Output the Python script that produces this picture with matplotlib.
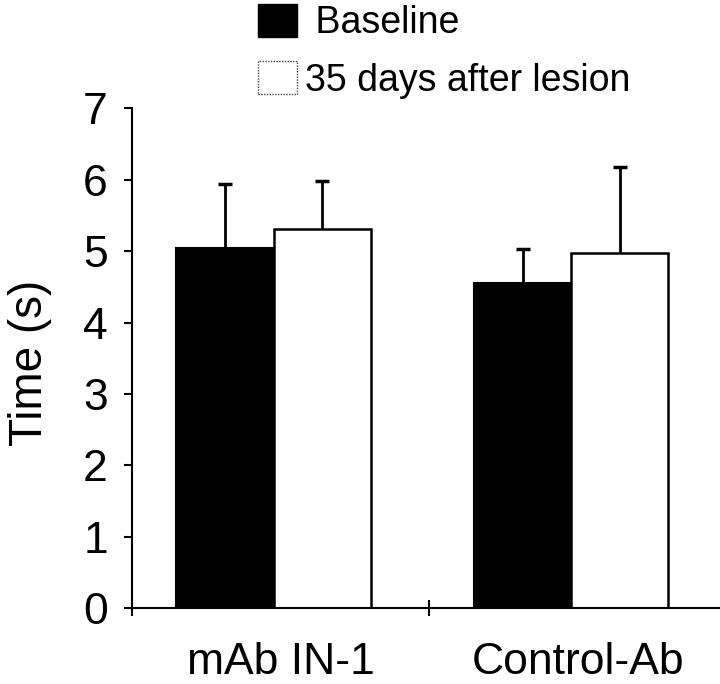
import matplotlib
matplotlib.use('Agg')
import matplotlib.pyplot as plt
from matplotlib.patches import Patch
import numpy as np

plt.rcParams['font.family'] = ['Liberation Sans', 'DejaVu Sans']

categories = ['mAb IN-1', 'Control-Ab']
baseline = [5.05, 4.55]
baseline_sd = [0.89, 0.48]
lesion = [5.31, 4.98]
lesion_sd = [0.67, 1.20]
series_labels = [' Baseline', '35 days after lesion']
yticks = [0, 1, 2, 3, 4, 5, 6, 7]

fig = plt.figure(figsize=(7.2, 6.84), dpi=100)
ax = fig.add_axes([131.5 / 720, 75.7 / 684, 588.5 / 720, 500 / 684])

x = np.arange(len(categories))
w = 0.326
ekw = dict(elinewidth=2.0, capthick=2.5, ecolor='black')
b1 = ax.bar(x - 0.186, baseline, w, color='black', edgecolor='black', linewidth=1.5,
            yerr=[np.zeros(len(baseline)), baseline_sd], capsize=5, error_kw=ekw)
b2 = ax.bar(x + 0.140, lesion, w, color='white', edgecolor='black', linewidth=1.8,
            yerr=[np.zeros(len(lesion)), lesion_sd], capsize=5, error_kw=ekw)
# hide the lower caps (at bar tops); only upper caps are shown
for bc in (b1, b2):
    caps = bc.errorbar.lines[1]
    if len(caps) == 2:
        caps[0].set_visible(False)

ax.set_ylim(0, 7)
ax.set_xlim(-0.5, 1.476)
ax.set_yticks(yticks)
ax.set_yticklabels([str(t) for t in yticks])
ax.set_xticks(x)
ax.set_xticklabels(categories)
ax.set_xticks([-0.5, 0.5], minor=True)

ax.tick_params(axis='y', direction='out', length=5.5, width=1.5, labelsize=32, pad=11.5)
ax.tick_params(axis='x', which='major', length=0, labelsize=32, pad=24.5)
ax.tick_params(axis='x', which='minor', direction='inout', length=12, width=1.5)

for s in ['top', 'right']:
    ax.spines[s].set_visible(False)
for s in ['left', 'bottom']:
    ax.spines[s].set_linewidth(1.5)

ax.set_ylabel('Time (s)', fontsize=33)
ax.yaxis.set_label_coords(-0.135, 0.49)

handles = [Patch(facecolor='black', edgecolor='black'),
           Patch(facecolor='white', edgecolor='#444444', linestyle=(0, (1, 1)), linewidth=1)]
fig.legend(handles, series_labels, loc='upper left', bbox_to_anchor=(258 / 720, 0.994),
           frameon=False, fontsize=27, handlelength=1.03, handleheight=0.97,
           handletextpad=0.22, labelspacing=0.53, borderpad=0, borderaxespad=0)

fig.savefig('out.png', dpi=100)
